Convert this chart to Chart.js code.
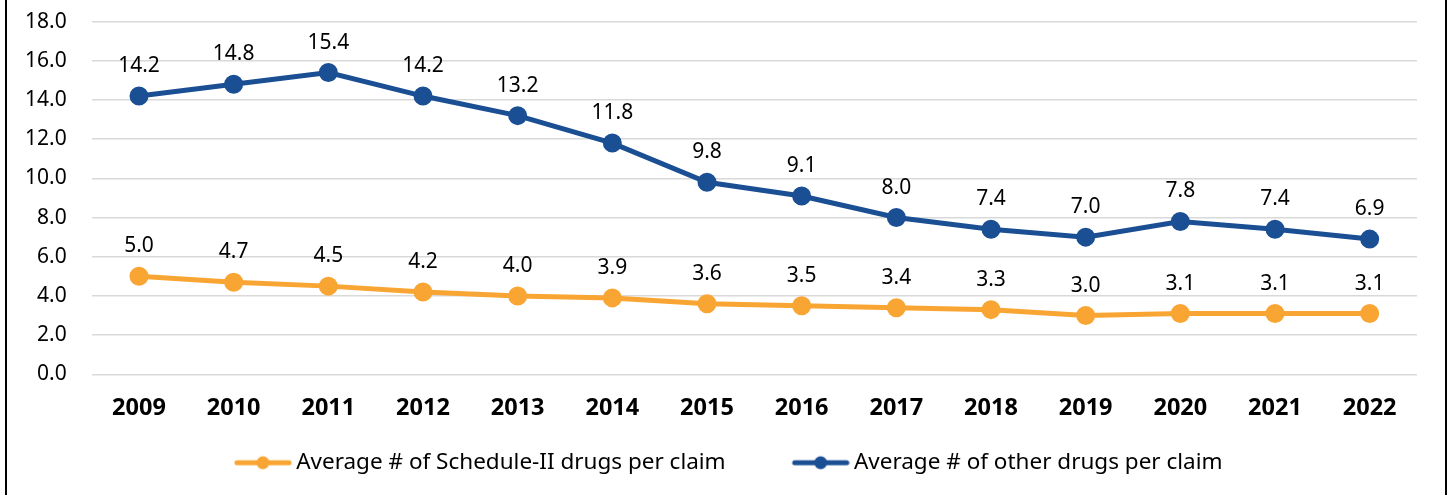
<!DOCTYPE html>
<html>
<head>
<meta charset="utf-8">
<script src="https://cdn.jsdelivr.net/npm/chart.js@4"></script>
<style>
    body { margin: 0; background: #fff; overflow: hidden; }
    #mainChart { position: absolute; left: 0; top: -16px; }
    .edge { position: absolute; top: 0; width: 2px; height: 495px; background: #000; }
</style>
</head>
<body>
<canvas id="mainChart" width="1447" height="511"></canvas>
<div class="edge" style="left:5px"></div>
<div class="edge" style="left:1445px"></div>
<script>
const years = ["2009", "2010", "2011", "2012", "2013", "2014", "2015", "2016", "2017", "2018", "2019", "2020", "2021", "2022"];
const scheduleTwo = [5.0, 4.7, 4.5, 4.2, 4.0, 3.9, 3.6, 3.5, 3.4, 3.3, 3.0, 3.1, 3.1, 3.1];
const otherDrugs = [14.2, 14.8, 15.4, 14.2, 13.2, 11.8, 9.8, 9.1, 8.0, 7.4, 7.0, 7.8, 7.4, 6.9];
const yTicks = [0, 2, 4, 6, 8, 10, 12, 14, 16, 18];

const ORANGE = "#f9a533";
const BLUE = "#1b4f94";
const FONT = "'Noto Sans', 'Open Sans', sans-serif";

// legend marker: line with a dot, sitting at the right end of a wider transparent strip
const MARK_BOX = 108;
function legendMarker(color) {
    const c = document.createElement("canvas");
    c.width = MARK_BOX + 14;
    c.height = 16;
    const g = c.getContext("2d");
    const x0 = c.width - 58;
    g.strokeStyle = color;
    g.lineWidth = 5;
    g.lineCap = "round";
    g.beginPath();
    g.moveTo(x0 + 3, 8);
    g.lineTo(x0 + 55, 8);
    g.stroke();
    g.fillStyle = color;
    g.beginPath();
    g.arc(x0 + 29, 8, 6.5, 0, Math.PI * 2);
    g.fill();
    return c;
}

const valueLabels = {
    id: "valueLabels",
    afterDatasetsDraw(chart) {
        const ctx = chart.ctx;
        ctx.save();
        ctx.font = "21px " + FONT;
        ctx.fillStyle = "#000";
        ctx.textAlign = "center";
        ctx.textBaseline = "alphabetic";
        chart.data.datasets.forEach((ds, i) => {
            const meta = chart.getDatasetMeta(i);
            meta.data.forEach((pt, j) => {
                ctx.fillText(ds.data[j].toFixed(1), pt.x, pt.y - 24);
            });
        });
        ctx.restore();
    }
};

const ctx = document.getElementById("mainChart").getContext("2d");

new Chart(ctx, {
    type: "line",
    data: {
        labels: years,
        datasets: [
            {
                label: "Average # of Schedule-II drugs per claim",
                data: scheduleTwo,
                borderColor: ORANGE,
                backgroundColor: ORANGE,
                borderWidth: 5,
                pointRadius: 7,
                pointHoverRadius: 7,
                tension: 0
            },
            {
                label: "Average # of other drugs per claim",
                data: otherDrugs,
                borderColor: BLUE,
                backgroundColor: BLUE,
                borderWidth: 5,
                pointRadius: 7,
                pointHoverRadius: 7,
                tension: 0
            }
        ]
    },
    options: {
        responsive: false,
        animation: false,
        layout: {
            padding: { left: 0, right: 30, top: 0, bottom: 11 }
        },
        plugins: {
            tooltip: { enabled: false },
            legend: {
                position: "bottom",
                labels: {
                    usePointStyle: true,
                    pointStyleWidth: MARK_BOX,
                    padding: 9,
                    color: "#000",
                    font: { family: FONT, size: 22.5 },
                    generateLabels(chart) {
                        return chart.data.datasets.map((ds, i) => ({
                            // trailing spaces on the last item nudge the centred row a little left
                            text: i === chart.data.datasets.length - 1 ? ds.label + "   " : ds.label,
                            pointStyle: legendMarker(ds.borderColor),
                            fillStyle: ds.borderColor,
                            strokeStyle: ds.borderColor,
                            lineWidth: 0,
                            fontColor: "#000",
                            datasetIndex: i,
                            hidden: false
                        }));
                    }
                }
            }
        },
        scales: {
            x: {
                offset: true,
                grid: { display: false, drawTicks: false },
                border: { display: false },
                ticks: {
                    color: "#000",
                    padding: 20,
                    font: { family: FONT, size: 23.5, weight: "bold" }
                }
            },
            y: {
                min: 0,
                max: 18,
                afterBuildTicks(scale) {
                    scale.ticks = yTicks.map(v => ({ value: v }));
                },
                grid: { color: "#d9d9d9", lineWidth: 1.5, drawTicks: false },
                border: { display: false },
                ticks: {
                    color: "#000",
                    padding: 25,
                    font: { family: FONT, size: 21 },
                    callback: v => Number(v).toFixed(1)
                }
            }
        }
    },
    plugins: [valueLabels]
});
</script>
</body>
</html>
